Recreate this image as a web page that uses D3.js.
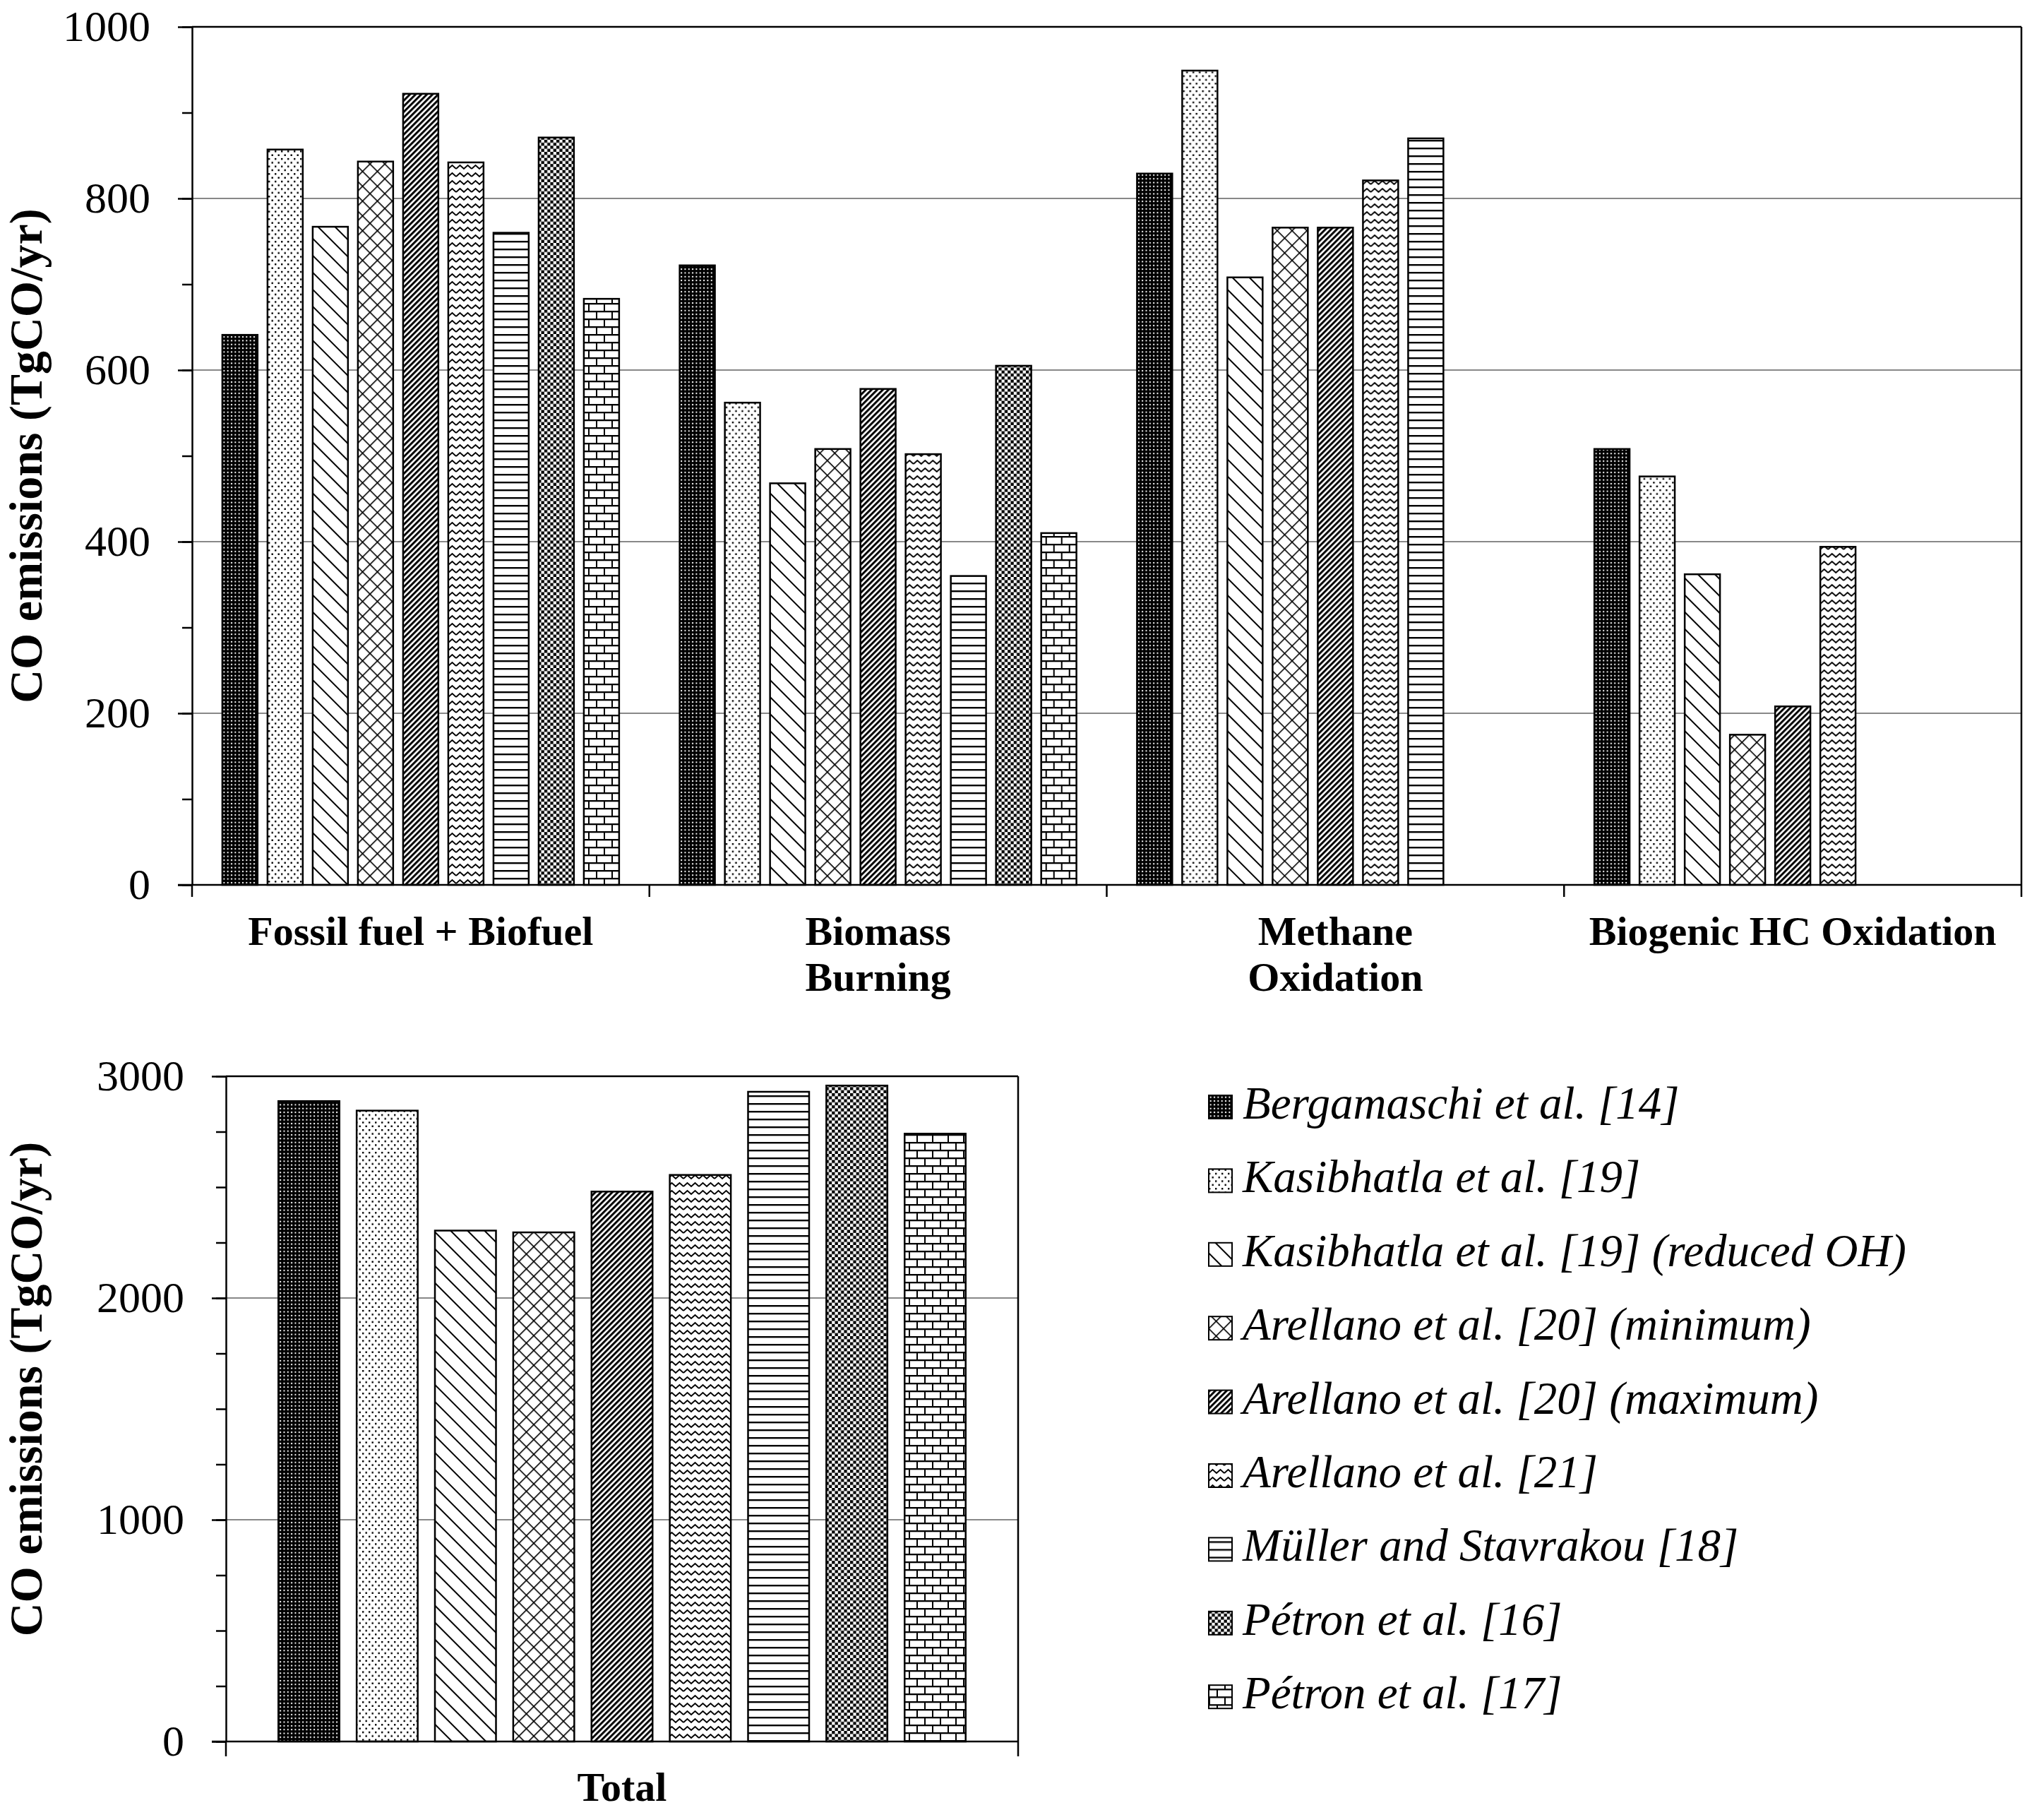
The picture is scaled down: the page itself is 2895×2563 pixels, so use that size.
<!DOCTYPE html>
<html>
<head>
<meta charset="utf-8">
<script src="https://cdn.jsdelivr.net/npm/d3@7"></script>
<style>
  body { margin: 0; background: #fff; }
  text { font-family: "Liberation Serif", "Times New Roman", serif; fill: #000; }
</style>
</head>
<body>
<svg id="chart" width="2895" height="2563"></svg>
<script>
// CO emission estimates by source (TgCO/yr)
var series = [
  'Bergamaschi et al. [14]',
  'Kasibhatla et al. [19]',
  'Kasibhatla et al. [19] (reduced OH)',
  'Arellano et al. [20] (minimum)',
  'Arellano et al. [20] (maximum)',
  'Arellano et al. [21]',
  'Müller and Stavrakou [18]',
  'Pétron et al. [16]',
  'Pétron et al. [17]'
];

var categories = ['Fossil fuel + Biofuel', 'Biomass Burning', 'Methane Oxidation', 'Biogenic HC Oxidation'];
var categoryLines = [['Fossil fuel + Biofuel'], ['Biomass', 'Burning'], ['Methane', 'Oxidation'], ['Biogenic HC Oxidation']];

var fossil   = [641, 857, 767, 843, 922, 842, 760, 871, 683];
var biomass  = [722, 562, 468, 508, 578, 502, 360, 605, 410];
var methane  = [829, 949, 708, 766, 766, 821, 870, null, null];
var biogenic = [508, 476, 362, 175, 208, 394, null, null, null];
var total    = [2888, 2845, 2304, 2296, 2480, 2555, 2930, 2958, 2741];

var topTicks = [0, 200, 400, 600, 800, 1000];
var bottomTicks = [0, 1000, 2000, 3000];

var svg = d3.select('#chart');
var defs = svg.append('defs');

// ---- fill patterns ----
function pattern(id, w, h, transform) {
  var p = defs.append('pattern')
    .attr('id', id)
    .attr('patternUnits', 'userSpaceOnUse')
    .attr('width', w).attr('height', h);
  if (transform) p.attr('patternTransform', transform);
  p.append('rect').attr('width', w).attr('height', h).attr('fill', '#fff');
  return p;
}

// dense dark dots
var p0 = pattern('p0', 5.33, 5.33);
p0.append('rect').attr('width', 5.33).attr('height', 5.33).attr('fill', '#000');
p0.append('rect').attr('x', 1.7).attr('y', 1.7).attr('width', 2).attr('height', 2).attr('fill', '#fff');

// sparse dots
var p1 = pattern('p1', 9, 10.66);
p1.append('rect').attr('x', 0).attr('y', 0).attr('width', 2.4).attr('height', 2.4).attr('fill', '#000');
p1.append('rect').attr('x', 4.5).attr('y', 5.33).attr('width', 2.4).attr('height', 2.4).attr('fill', '#000');

// wide downward diagonal
var p2 = pattern('p2', 17, 17, 'rotate(-45)');
p2.append('rect').attr('x', 0).attr('width', 2).attr('height', 17).attr('fill', '#000');

// diagonal cross-hatch
var p3 = pattern('p3', 14.85, 14.85, 'rotate(45)');
p3.append('rect').attr('x', 0).attr('width', 1.6).attr('height', 14.85).attr('fill', '#000');
p3.append('rect').attr('y', 0).attr('width', 14.85).attr('height', 1.6).attr('fill', '#000');

// dark upward diagonal
var p4 = pattern('p4', 5.66, 5.66, 'rotate(45)');
p4.append('rect').attr('x', 0).attr('width', 3).attr('height', 5.66).attr('fill', '#000');

// zigzag
var p5 = pattern('p5', 22, 11);
p5.append('path').attr('d', 'M0,8 L5.5,3 L11,8 L16.5,3 L22,8')
  .attr('fill', 'none').attr('stroke', '#000').attr('stroke-width', 2);

// horizontal lines
var p6 = pattern('p6', 11, 11);
p6.append('rect').attr('y', 0).attr('width', 11).attr('height', 2.4).attr('fill', '#000');

// checkerboard
var p7 = pattern('p7', 8.6, 8.6);
p7.append('rect').attr('width', 4.3).attr('height', 4.3).attr('fill', '#000');
p7.append('rect').attr('x', 4.3).attr('y', 4.3).attr('width', 4.3).attr('height', 4.3).attr('fill', '#000');

// bricks
var p8 = pattern('p8', 22, 22);
p8.append('rect').attr('y', 0).attr('width', 22).attr('height', 2.3).attr('fill', '#000');
p8.append('rect').attr('y', 11).attr('width', 22).attr('height', 2.3).attr('fill', '#000');
p8.append('rect').attr('x', 0).attr('y', 0).attr('width', 2).attr('height', 11).attr('fill', '#000');
p8.append('rect').attr('x', 11).attr('y', 11).attr('width', 2).attr('height', 11).attr('fill', '#000');

var fills = series.map(function (s, i) { return 'url(#p' + i + ')'; });

// ---- shared axis helpers ----
function drawYAxis(g, y, major, minorStep, left, right) {
  var max = d3.max(major);
  // gridlines
  g.selectAll('line.grid')
    .data(major.filter(function (v) { return v > 0 && v < max; }))
    .enter().append('line')
    .attr('class', 'grid')
    .attr('x1', left).attr('x2', right)
    .attr('y1', function (d) { return y(d); })
    .attr('y2', function (d) { return y(d); })
    .attr('stroke', '#888').attr('stroke-width', 2);

  var minor = g.append('g').attr('transform', 'translate(' + left + ',0)')
    .call(d3.axisLeft(y).tickValues(d3.range(0, max + 1, minorStep)).tickSize(14).tickSizeOuter(0).tickFormat(''));
  minor.select('.domain').remove();
  minor.selectAll('line').attr('stroke-width', 2.5);

  var ax = g.append('g').attr('transform', 'translate(' + left + ',0)')
    .call(d3.axisLeft(y).tickValues(major).tickSize(20).tickSizeOuter(0).tickPadding(39).tickFormat(d3.format('d')));
  ax.select('.domain').attr('stroke-width', 2.5);
  ax.selectAll('line').attr('stroke-width', 2.5);
  ax.selectAll('text').attr('font-size', 62).attr('font-family', '"Liberation Serif", serif');
}

function drawFrame(g, y, max, left, right) {
  g.append('line').attr('x1', left).attr('x2', right).attr('y1', y(max)).attr('y2', y(max))
    .attr('stroke', '#000').attr('stroke-width', 2.5);
  g.append('line').attr('x1', right).attr('x2', right).attr('y1', y(max)).attr('y2', y(0))
    .attr('stroke', '#000').attr('stroke-width', 2.5);
  g.append('line').attr('x1', left - 20).attr('x2', right).attr('y1', y(0)).attr('y2', y(0))
    .attr('stroke', '#000').attr('stroke-width', 2.5);
}

function yTitle(g, cy) {
  g.append('text')
    .attr('transform', 'translate(59,' + cy + ') rotate(-90)')
    .attr('text-anchor', 'middle')
    .attr('font-size', 66).attr('font-weight', 'bold')
    .text('CO emissions (TgCO/yr)');
}

// ---- top chart ----
var topChart = svg.append('g');
var tLeft = 272, tRight = 2863;
var yTop = d3.scaleLinear().domain([0, 1000]).range([1253, 38]);
var x0 = d3.scaleBand().domain(categories).range([tLeft, tRight]);
var x1 = d3.scaleBand().domain(series).range([0, x0.bandwidth()]).paddingInner(0.22).paddingOuter(0.67);

drawYAxis(topChart, yTop, topTicks, 100, tLeft, tRight);

var catValues = [fossil, biomass, methane, biogenic];
var groups = topChart.selectAll('g.cat')
  .data(categories)
  .enter().append('g')
  .attr('class', 'cat')
  .attr('transform', function (d) { return 'translate(' + x0(d) + ',0)'; });

groups.selectAll('rect')
  .data(function (d, i) {
    return series.map(function (s, j) { return { s: s, j: j, v: catValues[i][j] }; })
      .filter(function (e) { return e.v != null; });
  })
  .enter().append('rect')
  .attr('x', function (d) { return x1(d.s); })
  .attr('y', function (d) { return yTop(d.v); })
  .attr('width', x1.bandwidth())
  .attr('height', function (d) { return yTop(0) - yTop(d.v); })
  .attr('fill', function (d) { return fills[d.j]; })
  .attr('stroke', '#000').attr('stroke-width', 2.5);

drawFrame(topChart, yTop, 1000, tLeft, tRight);

// category separators
topChart.selectAll('line.sep')
  .data(categories.map(function (c) { return x0(c); }).concat([tRight]))
  .enter().append('line')
  .attr('class', 'sep')
  .attr('x1', function (d) { return d; }).attr('x2', function (d) { return d; })
  .attr('y1', yTop(0)).attr('y2', yTop(0) + 17)
  .attr('stroke', '#000').attr('stroke-width', 2.5);

var labels = topChart.selectAll('text.cat')
  .data(categories)
  .enter().append('text')
  .attr('class', 'cat')
  .attr('text-anchor', 'middle')
  .attr('font-size', 58).attr('font-weight', 'bold');
labels.selectAll('tspan')
  .data(function (d, i) { return categoryLines[i].map(function (t) { return { t: t, c: d }; }); })
  .enter().append('tspan')
  .attr('x', function (d) { return x0(d.c) + x0.bandwidth() / 2; })
  .attr('y', function (d, k) { return 1338 + k * 65; })
  .text(function (d) { return d.t; });

yTitle(topChart, (yTop(0) + yTop(1000)) / 2);

// ---- bottom chart ----
var botChart = svg.append('g');
var bLeft = 320, bRight = 1442;
var yBot = d3.scaleLinear().domain([0, 3000]).range([2466, 1524]);
var xb = d3.scaleBand().domain(series).range([bLeft, bRight]).paddingInner(0.22).paddingOuter(0.67);

drawYAxis(botChart, yBot, bottomTicks, 250, bLeft, bRight);

botChart.selectAll('rect.bar')
  .data(total)
  .enter().append('rect')
  .attr('class', 'bar')
  .attr('x', function (d, i) { return xb(series[i]); })
  .attr('y', function (d) { return yBot(d); })
  .attr('width', xb.bandwidth())
  .attr('height', function (d) { return yBot(0) - yBot(d); })
  .attr('fill', function (d, i) { return fills[i]; })
  .attr('stroke', '#000').attr('stroke-width', 2.5);

drawFrame(botChart, yBot, 3000, bLeft, bRight);

botChart.selectAll('line.sep')
  .data([bLeft, bRight])
  .enter().append('line')
  .attr('class', 'sep')
  .attr('x1', function (d) { return d; }).attr('x2', function (d) { return d; })
  .attr('y1', yBot(0)).attr('y2', yBot(0) + 21)
  .attr('stroke', '#000').attr('stroke-width', 2.5);

botChart.append('text')
  .attr('x', (bLeft + bRight) / 2).attr('y', 2550)
  .attr('text-anchor', 'middle')
  .attr('font-size', 58).attr('font-weight', 'bold')
  .text('Total');

yTitle(botChart, 1967);

// ---- legend ----
var legend = svg.append('g').attr('transform', 'translate(1712,1567)');
var items = legend.selectAll('g')
  .data(series)
  .enter().append('g')
  .attr('transform', function (d, i) { return 'translate(0,' + (i * 104.4) + ')'; });
items.append('rect')
  .attr('x', 0).attr('y', -16).attr('width', 33).attr('height', 33)
  .attr('fill', function (d, i) { return fills[i]; })
  .attr('stroke', '#000').attr('stroke-width', 2);
items.append('text')
  .attr('x', 48).attr('y', 17)
  .attr('font-size', 65).attr('font-style', 'italic')
  .text(function (d) { return d; });
</script>
</body>
</html>
